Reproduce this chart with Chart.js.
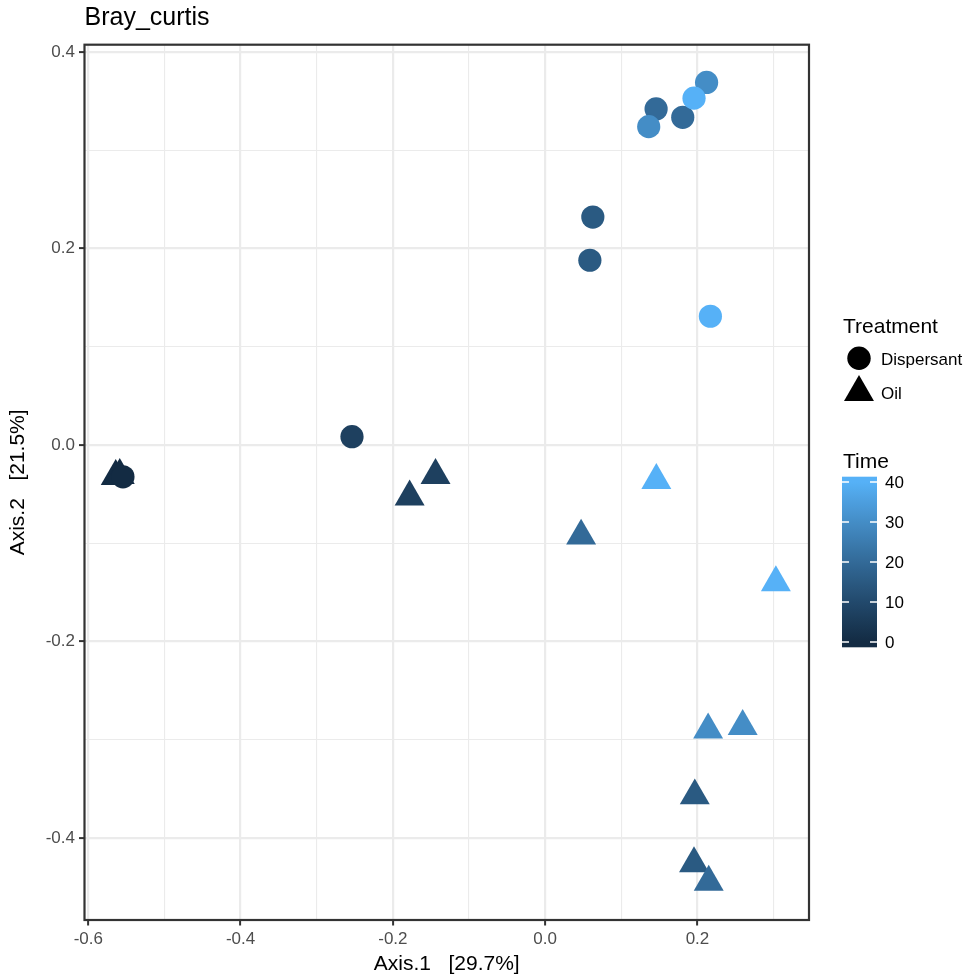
<!DOCTYPE html>
<html>
<head>
<meta charset="utf-8">
<script src="https://cdn.jsdelivr.net/npm/chart.js@4.4.1/dist/chart.umd.min.js"></script>
<style>
  html, body { margin: 0; padding: 0; background: #fff; }
  #plot { display: block; }
</style>
</head>
<body>
<canvas id="plot" width="979" height="980"></canvas>
<script>
// Valeurs (ordination Bray-Curtis)
const dispersantX = [-0.5545, -0.2537, 0.0587, 0.0626, 0.1457, 0.1807, 0.136, 0.212, 0.1955, 0.217];
const dispersantY = [-0.0324, 0.0084, 0.188, 0.232, 0.342, 0.3335, 0.324, 0.369, 0.353, 0.131];
const dispersantTime = [0, 7, 15, 15, 20, 20, 30, 30, 40, 40];

const oilX = [-0.564, -0.5587, -0.178, -0.144, 0.1965, 0.1955, 0.0472, 0.214, 0.2594, 0.146, 0.303, 0.2148];
const oilY = [-0.032, -0.031, -0.0528, -0.031, -0.357, -0.426, -0.0926, -0.290, -0.2864, -0.0359, -0.140, -0.445];
const oilTime = [0, 0, 7, 7, 15, 15, 20, 30, 30, 40, 40, 20];

const xMajorTicks = [-0.6, -0.4, -0.2, 0, 0.2];
const xTickLabels = ["-0.6", "-0.4", "-0.2", "0.0", "0.2"];
const xMinorTicks = [-0.5, -0.3, -0.1, 0.1, 0.3];
const yMajorTicks = [-0.4, -0.2, 0, 0.2, 0.4];
const yTickLabels = ["-0.4", "-0.2", "0.0", "0.2", "0.4"];
const yMinorTicks = [-0.3, -0.1, 0.1, 0.3];
const timeTicks = [0, 10, 20, 30, 40];
const timeTickLabels = ["0", "10", "20", "30", "40"];

const X_LIMITS = [-0.605, 0.3465];
const Y_LIMITS = [-0.4835, 0.4074];
const TIME_LIMITS = [0, 40];
const LOW_COLOR = "#132B43";
const HIGH_COLOR = "#56B1F7";
const FONT = "'Liberation Sans', Arial, sans-serif";

// Dégradé façon ggplot2 : interpolation dans l'espace Lab
function toLinear(c) {
  c /= 255;
  return c <= 0.04045 ? c / 12.92 : Math.pow((c + 0.055) / 1.055, 2.4);
}

function fromLinear(c) {
  const v = c <= 0.0031308 ? 12.92 * c : 1.055 * Math.pow(c, 1 / 2.4) - 0.055;
  return Math.round(Math.max(0, Math.min(1, v)) * 255);
}

function hexToLab(hex) {
  const r = toLinear(parseInt(hex.slice(1, 3), 16));
  const g = toLinear(parseInt(hex.slice(3, 5), 16));
  const b = toLinear(parseInt(hex.slice(5, 7), 16));
  const x = (0.4124 * r + 0.3576 * g + 0.1805 * b) / 0.95047;
  const y = 0.2126 * r + 0.7152 * g + 0.0722 * b;
  const z = (0.0193 * r + 0.1192 * g + 0.9505 * b) / 1.08883;
  const f = (t) => (t > 0.008856 ? Math.cbrt(t) : 7.787 * t + 16 / 116);
  return [116 * f(y) - 16, 500 * (f(x) - f(y)), 200 * (f(y) - f(z))];
}

function labToRgb([L, a, bb]) {
  const fy = (L + 16) / 116;
  const fx = fy + a / 500;
  const fz = fy - bb / 200;
  const inv = (t) => (t ** 3 > 0.008856 ? t ** 3 : (t - 16 / 116) / 7.787);
  const x = inv(fx) * 0.95047;
  const y = inv(fy);
  const z = inv(fz) * 1.08883;
  const r = 3.2406 * x - 1.5372 * y - 0.4986 * z;
  const g = -0.9689 * x + 1.8758 * y + 0.0415 * z;
  const b = 0.0557 * x - 0.204 * y + 1.057 * z;
  return `rgb(${fromLinear(r)}, ${fromLinear(g)}, ${fromLinear(b)})`;
}

const lowLab = hexToLab(LOW_COLOR);
const highLab = hexToLab(HIGH_COLOR);

function timeColor(t) {
  const k = Math.max(0, Math.min(1, (t - TIME_LIMITS[0]) / (TIME_LIMITS[1] - TIME_LIMITS[0])));
  return labToRgb(lowLab.map((v, i) => v + (highLab[i] - v) * k));
}

function toPoints(xs, ys) {
  return xs.map((x, i) => ({ x, y: ys[i] }));
}

function buildTicks(major, minor) {
  return [...major, ...minor].sort((a, b) => a - b).map((value) => ({ value }));
}

function isMajor(list, value) {
  return list.some((v) => Math.abs(v - value) < 1e-9);
}

function axisOptions(limits, major, minor, labels) {
  return {
    type: "linear",
    min: limits[0],
    max: limits[1],
    afterBuildTicks: (scale) => { scale.ticks = buildTicks(major, minor); },
    border: { display: false },
    grid: {
      color: "#EBEBEB",
      lineWidth: (ctx) => (isMajor(major, ctx.tick.value) ? 2.2 : 1.1),
      tickColor: (ctx) => (isMajor(major, ctx.tick.value) ? "#333333" : "rgba(0,0,0,0)"),
      tickWidth: 2,
      tickLength: 5.5,
      drawTicks: true
    },
    ticks: {
      autoSkip: false,
      maxRotation: 0,
      padding: 4,
      color: "#4D4D4D",
      font: { family: FONT, size: 17 },
      callback: (value) => {
        const idx = major.findIndex((v) => Math.abs(v - value) < 1e-9);
        return idx >= 0 ? labels[idx] : "";
      }
    }
  };
}

const ggDecor = {
  id: "ggDecor",
  afterDraw(chart) {
    const { ctx, chartArea } = chart;
    ctx.save();

    // cadre du panneau
    ctx.strokeStyle = "#333333";
    ctx.lineWidth = 2.2;
    ctx.strokeRect(chartArea.left, chartArea.top, chartArea.right - chartArea.left, chartArea.bottom - chartArea.top);

    // titre
    ctx.fillStyle = "#000";
    ctx.textBaseline = "alphabetic";
    ctx.textAlign = "left";
    ctx.font = `25px ${FONT}`;
    ctx.fillText("Bray_curtis", chartArea.left, 25);

    // légende Treatment
    ctx.font = `21px ${FONT}`;
    ctx.fillText("Treatment", 843, 333);
    ctx.font = `17px ${FONT}`;
    ctx.fillText("Dispersant", 881, 364.5);
    ctx.fillText("Oil", 881, 399);

    ctx.beginPath();
    ctx.arc(859, 358.3, 11.7, 0, Math.PI * 2);
    ctx.fill();

    const r = 17.3;
    const cx = 859, cy = 392.3;
    ctx.beginPath();
    for (let k = 0; k < 3; k++) {
      const a = k * 2 * Math.PI / 3;
      const px = cx + Math.sin(a) * r;
      const py = cy - Math.cos(a) * r;
      if (k === 0) ctx.moveTo(px, py); else ctx.lineTo(px, py);
    }
    ctx.closePath();
    ctx.fill();

    // légende Time (barre de couleur)
    ctx.font = `21px ${FONT}`;
    ctx.fillText("Time", 843, 468.3);

    const barLeft = 842, barRight = 877, barTop = 476.7, barBottom = 647.3;
    const y0 = 642, y40 = 482;
    const grad = ctx.createLinearGradient(0, y0, 0, y40);
    for (let s = 0; s <= 20; s++) {
      grad.addColorStop(s / 20, timeColor(TIME_LIMITS[0] + (TIME_LIMITS[1] - TIME_LIMITS[0]) * s / 20));
    }
    ctx.fillStyle = grad;
    ctx.fillRect(barLeft, barTop, barRight - barLeft, barBottom - barTop);

    ctx.strokeStyle = "#FFFFFF";
    ctx.lineWidth = 1.5;
    ctx.fillStyle = "#000";
    ctx.font = `17px ${FONT}`;
    ctx.textBaseline = "middle";
    timeTicks.forEach((t, i) => {
      const ty = y0 + (y40 - y0) * (t - TIME_LIMITS[0]) / (TIME_LIMITS[1] - TIME_LIMITS[0]);
      ctx.beginPath();
      ctx.moveTo(barLeft, ty);
      ctx.lineTo(barLeft + 7, ty);
      ctx.moveTo(barRight - 7, ty);
      ctx.lineTo(barRight, ty);
      ctx.stroke();
      ctx.fillText(timeTickLabels[i], 885, ty + 1);
    });

    ctx.restore();
  }
};

new Chart(document.getElementById("plot"), {
  type: "scatter",
  data: {
    datasets: [
      {
        label: "Dispersant",
        data: toPoints(dispersantX, dispersantY),
        pointStyle: "circle",
        pointRadius: 11.6,
        pointBorderWidth: 0,
        pointBackgroundColor: dispersantTime.map(timeColor)
      },
      {
        label: "Oil",
        data: toPoints(oilX, oilY),
        pointStyle: "triangle",
        pointRadius: 17.3,
        pointBorderWidth: 0,
        pointBackgroundColor: oilTime.map(timeColor)
      }
    ]
  },
  options: {
    responsive: false,
    animation: false,
    events: [],
    layout: { padding: { top: 44.7, right: 170, bottom: 0, left: 0 } },
    plugins: {
      legend: { display: false },
      title: { display: false },
      tooltip: { enabled: false }
    },
    scales: {
      x: {
        ...axisOptions(X_LIMITS, xMajorTicks, xMinorTicks, xTickLabels),
        afterFit: (scale) => { scale.height = 60; },
        title: {
          display: true,
          text: "Axis.1   [29.7%]",
          color: "#000",
          font: { family: FONT, size: 21 },
          padding: { top: 0, bottom: 3 }
        }
      },
      y: {
        ...axisOptions(Y_LIMITS, yMajorTicks, yMinorTicks, yTickLabels),
        afterFit: (scale) => { scale.width = 84.5; },
        title: {
          display: true,
          text: "Axis.2   [21.5%]",
          color: "#000",
          font: { family: FONT, size: 21 },
          padding: { top: 6, bottom: 0 }
        }
      }
    }
  },
  plugins: [ggDecor]
});
</script>
</body>
</html>
